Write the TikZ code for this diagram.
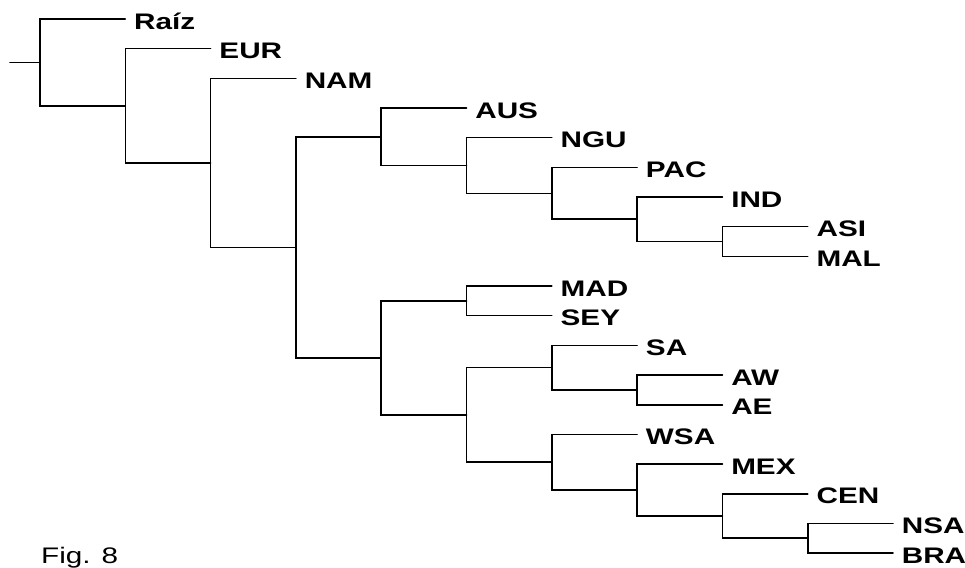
\documentclass[tikz,border=0pt]{standalone}
\usepackage{fontspec}
\setmainfont{Liberation Sans}[FakeStretch=1.32]
\usepackage{tikz}
\usetikzlibrary{calc}

\begin{document}
\begin{tikzpicture}[x=1.706cm,y=-0.5934cm,line cap=round,
 branch/.style={line width=0.9pt,black},
 taxon/.style={anchor=west,inner xsep=0.17cm,inner ysep=0pt,
  text height=0.40cm,text depth=0pt,font=\fontsize{12.8}{15}\selectfont\bfseries}]
 \useasboundingbox (-0.4689,-0.6404) rectangle (10.8441,18.4699);
 % taxa: level of the tip, row
 \node[taxon] (raiz) at (1,0) {Raíz};
 \node[taxon] (eur) at (2,1) {EUR};
 \node[taxon] (nam) at (3,2) {NAM};
 \node[taxon] (aus) at (5,3) {AUS};
 \node[taxon] (ngu) at (6,4) {NGU};
 \node[taxon] (pac) at (7,5) {PAC};
 \node[taxon] (ind) at (8,6) {IND};
 \node[taxon] (asi) at (9,7) {ASI};
 \node[taxon] (mal) at (9,8) {MAL};
 \node[taxon] (mad) at (6,9) {MAD};
 \node[taxon] (sey) at (6,10) {SEY};
 \node[taxon] (sa) at (7,11) {SA};
 \node[taxon] (aw) at (8,12) {AW};
 \node[taxon] (ae) at (8,13) {AE};
 \node[taxon] (wsa) at (7,14) {WSA};
 \node[taxon] (mex) at (8,15) {MEX};
 \node[taxon] (cen) at (9,16) {CEN};
 \node[taxon] (nsa) at (10,17) {NSA};
 \node[taxon] (bra) at (10,18) {BRA};
 % internal nodes, half way between their two children
 \coordinate (stem) at (-0.3517,1.4619);
 \coordinate (n1) at (0,1.4619);
 \coordinate (n2) at (1,2.9238);
 \coordinate (n3) at (2,4.8477);
 \coordinate (n4) at (3,7.6953);
 \coordinate (n5) at (4,3.96875);
 \coordinate (n6) at (5,4.9375);
 \coordinate (n7) at (6,5.875);
 \coordinate (n8) at (7,6.75);
 \coordinate (n9) at (8,7.5);
 \coordinate (n10) at (4,11.421875);
 \coordinate (n11) at (5,9.5);
 \coordinate (n12) at (5,13.34375);
 \coordinate (n13) at (6,11.75);
 \coordinate (n14) at (7,12.5);
 \coordinate (n15) at (6,14.9375);
 \coordinate (n16) at (7,15.875);
 \coordinate (n17) at (8,16.75);
 \coordinate (n18) at (9,17.5);
 % branches
 \draw[branch] (stem) -- (n1);
 \draw[branch] (raiz.west) -| (n1) |- (n2);
 \draw[branch] (eur.west) -| (n2) |- (n3);
 \draw[branch] (nam.west) -| (n3) |- (n4);
 \draw[branch] (n5) -| (n4) |- (n10);
 \draw[branch] (aus.west) -| (n5) |- (n6);
 \draw[branch] (ngu.west) -| (n6) |- (n7);
 \draw[branch] (pac.west) -| (n7) |- (n8);
 \draw[branch] (ind.west) -| (n8) |- (n9);
 \draw[branch] (asi.west) -| (n9) |- (mal.west);
 \draw[branch] (n11) -| (n10) |- (n12);
 \draw[branch] (mad.west) -| (n11) |- (sey.west);
 \draw[branch] (n13) -| (n12) |- (n15);
 \draw[branch] (sa.west) -| (n13) |- (n14);
 \draw[branch] (aw.west) -| (n14) |- (ae.west);
 \draw[branch] (wsa.west) -| (n15) |- (n16);
 \draw[branch] (mex.west) -| (n16) |- (n17);
 \draw[branch] (cen.west) -| (n17) |- (n18);
 \draw[branch] (nsa.west) -| (n18) |- (bra.west);
 \node[anchor=base west,inner sep=0pt,font=\fontsize{12.8}{15}\selectfont]
  (fig) at (0.01,18.36) {Fig. 8};
\end{tikzpicture}
\end{document}
